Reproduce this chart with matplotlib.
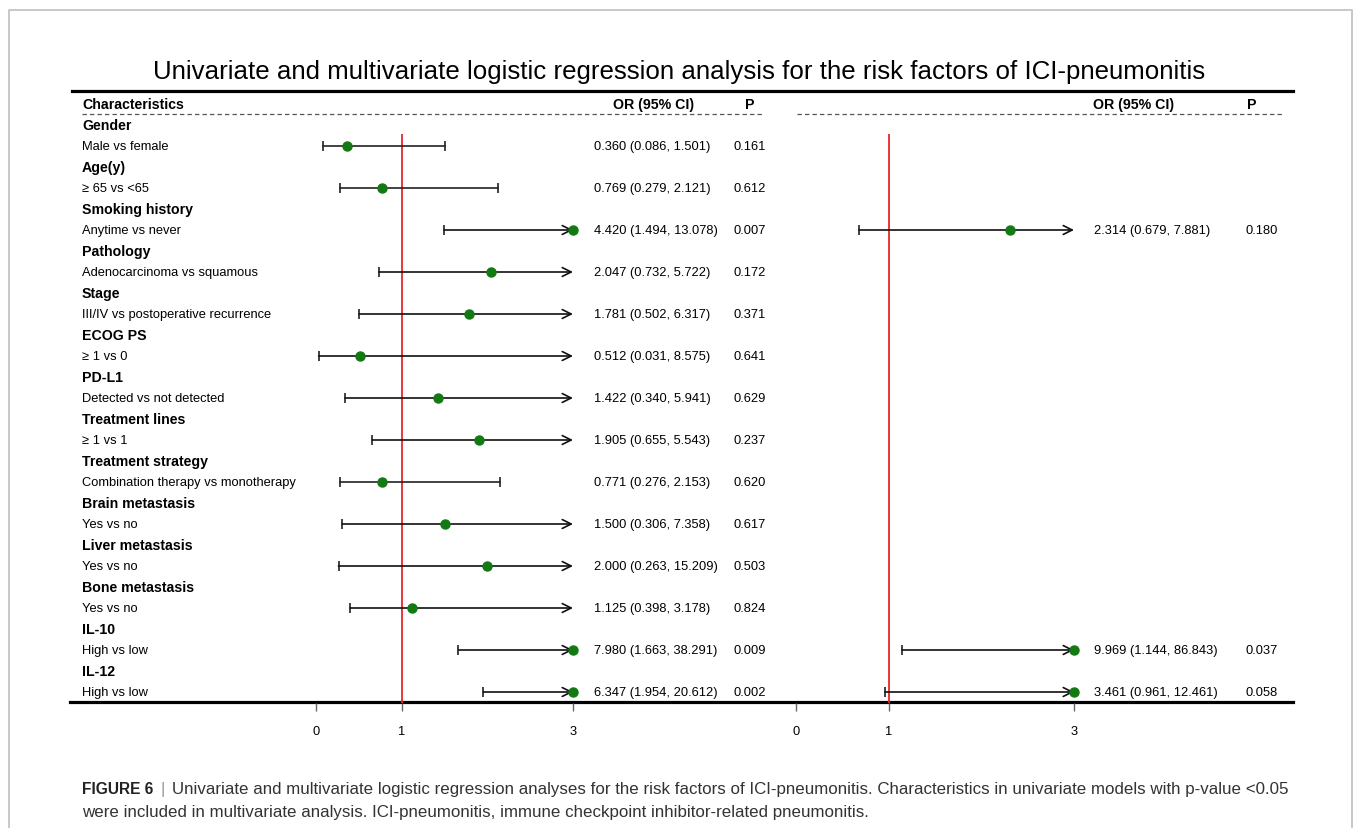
import numpy as np
import matplotlib
matplotlib.use("Agg")
import matplotlib.pyplot as plt

plt.rcParams['font.family'] = ['Liberation Sans', 'DejaVu Sans']

# univariate analysis
categories = ["Gender", "Age(y)", "Smoking history", "Pathology", "Stage", "ECOG PS",
              "PD-L1", "Treatment lines", "Treatment strategy", "Brain metastasis",
              "Liver metastasis", "Bone metastasis", "IL-10", "IL-12"]
comparisons = ["Male vs female", "\u2265 65 vs <65", "Anytime vs never",
               "Adenocarcinoma vs squamous", "III/IV vs postoperative recurrence",
               "\u2265 1 vs 0", "Detected vs not detected", "\u2265 1 vs 1",
               "Combination therapy vs monotherapy", "Yes vs no", "Yes vs no",
               "Yes vs no", "High vs low", "High vs low"]
uni_or = [0.360, 0.769, 4.420, 2.047, 1.781, 0.512, 1.422, 1.905, 0.771, 1.500, 2.000, 1.125, 7.980, 6.347]
uni_lo = [0.086, 0.279, 1.494, 0.732, 0.502, 0.031, 0.340, 0.655, 0.276, 0.306, 0.263, 0.398, 1.663, 1.954]
uni_hi = [1.501, 2.121, 13.078, 5.722, 6.317, 8.575, 5.941, 5.543, 2.153, 7.358, 15.209, 3.178, 38.291, 20.612]
uni_p = ["0.161", "0.612", "0.007", "0.172", "0.371", "0.641", "0.629", "0.237", "0.620",
         "0.617", "0.503", "0.824", "0.009", "0.002"]

# multivariate analysis (index into categories)
multi_idx = [2, 12, 13]
multi_or = [2.314, 9.969, 3.461]
multi_lo = [0.679, 1.144, 0.961]
multi_hi = [7.881, 86.843, 12.461]
multi_p = ["0.180", "0.037", "0.058"]

ticks = [0, 1, 3]
xmax = 3

W, H = 1357, 829
fig = plt.figure(figsize=(W / 100, H / 100), dpi=100)
ax0 = fig.add_axes([0, 0, 1, 1])
ax0.set_xlim(0, W)
ax0.set_ylim(H, 0)
ax0.axis('off')

Y0 = 105
DY = 21

def row_y(i):
    return Y0 + DY * i

fs = 9.3
green = '#137a13'
red = '#e8262a'

# frame
ax0.plot([9, 9, 1352, 1352], [H + 5, 11, 11, H + 5], color='#c8c8c8', lw=1.4)

ax0.text(679, 72, "Univariate and multivariate logistic regression analysis for the risk factors of ICI-pneumonitis",
         ha='center', va='center', fontsize=18.6)

# table rules
ax0.plot([72, 1293], [92, 92], color='black', lw=2.3)
ax0.plot([70, 1293], [703, 703], color='black', lw=2.3)
ax0.plot([82, 763], [115, 115], color='#555555', lw=0.9, ls=(0, (3.5, 2.5)))
ax0.plot([797, 1283], [115, 115], color='#555555', lw=0.9, ls=(0, (3.5, 2.5)))

# headers
hy = row_y(0)
ax0.text(82, hy, "Characteristics", fontsize=10.2, fontweight='bold', va='center')
ax0.text(613, hy, "OR (95% CI)", fontsize=10.2, fontweight='bold', va='center')
ax0.text(745, hy, "P", fontsize=10.2, fontweight='bold', va='center')
ax0.text(1093, hy, "OR (95% CI)", fontsize=10.2, fontweight='bold', va='center')
ax0.text(1247, hy, "P", fontsize=10.2, fontweight='bold', va='center')

for k, (cat, comp) in enumerate(zip(categories, comparisons)):
    ax0.text(82, row_y(1 + 2 * k), cat, fontsize=10.2, fontweight='bold', va='center')
    ax0.text(82, row_y(2 + 2 * k), comp, fontsize=fs, va='center')
    ax0.text(594, row_y(2 + 2 * k), f"{uni_or[k]:.3f} ({uni_lo[k]:.3f}, {uni_hi[k]:.3f})",
             fontsize=fs, va='center')
    ax0.text(733, row_y(2 + 2 * k), uni_p[k], fontsize=fs, va='center')

for j, k in enumerate(multi_idx):
    ax0.text(1094, row_y(2 + 2 * k), f"{multi_or[j]:.3f} ({multi_lo[j]:.3f}, {multi_hi[j]:.3f})",
             fontsize=fs, va='center')
    ax0.text(1246, row_y(2 + 2 * k), multi_p[j], fontsize=fs, va='center')


def forest(x_left, x_right, rows, ors, los, his):
    top, bottom = 92, 704
    ax = fig.add_axes([x_left / W, (H - bottom) / H, (x_right - x_left) / W, (bottom - top) / H])
    ax.set_xlim(0, xmax)
    y_top = (top - Y0) / DY
    y_bot = (bottom - Y0) / DY
    ax.set_ylim(y_bot, y_top)
    ax.patch.set_alpha(0)
    for s in ax.spines.values():
        s.set_visible(False)
    ax.set_yticks([])
    ax.set_xticks(ticks)
    ax.set_xticklabels([str(t) for t in ticks], fontsize=fs)
    ax.tick_params(axis='x', direction='out', length=5.5, width=1, color='#666666', pad=10)
    ax.vlines(1, (135 - Y0) / DY, y_bot, color=red, lw=1.3, zorder=1)
    for r, o, lo, hi in zip(rows, ors, los, his):
        y = 2 + 2 * r
        end = min(hi, xmax)
        ax.plot([lo], [y], marker='|', ms=7, mew=1.2, color='#222222', clip_on=False, zorder=2)
        if hi > xmax:
            ax.annotate('', xy=(end, y), xytext=(lo, y),
                        arrowprops=dict(arrowstyle='->', color='#111111', lw=1.2,
                                        shrinkA=0, shrinkB=0, mutation_scale=16),
                        annotation_clip=False, zorder=2)
        else:
            ax.plot([lo, end], [y, y], color='#222222', lw=1.2, zorder=2)
            ax.plot([end], [y], marker='|', ms=7, mew=1.2, color='#222222', clip_on=False, zorder=2)
        ax.plot([min(o, xmax)], [y], marker='o', ms=6.5, color=green, mec=green,
                clip_on=False, zorder=3)
    return ax


forest(316, 573, range(len(categories)), uni_or, uni_lo, uni_hi)
forest(796, 1074, multi_idx, multi_or, multi_lo, multi_hi)

# caption
cap_fs = 12.2
renderer = fig.canvas.get_renderer()
t1 = ax0.text(82, 790, "FIGURE 6", fontsize=11.2, fontweight='bold', color='#222222', va='center')
bb = t1.get_window_extent(renderer)
x1 = bb.x1 + 7
t2 = ax0.text(x1, 790, "|", fontsize=cap_fs, color='#999999', va='center')
bb2 = t2.get_window_extent(renderer)
ax0.text(bb2.x1 + 7, 790,
         "Univariate and multivariate logistic regression analyses for the risk factors of ICI-pneumonitis. "
         "Characteristics in univariate models with p-value <0.05",
         fontsize=cap_fs, color='#333333', va='center')
ax0.text(82, 813,
         "were included in multivariate analysis. ICI-pneumonitis, immune checkpoint inhibitor-related pneumonitis.",
         fontsize=cap_fs, color='#333333', va='center')

fig.savefig("out.png", dpi=100)
